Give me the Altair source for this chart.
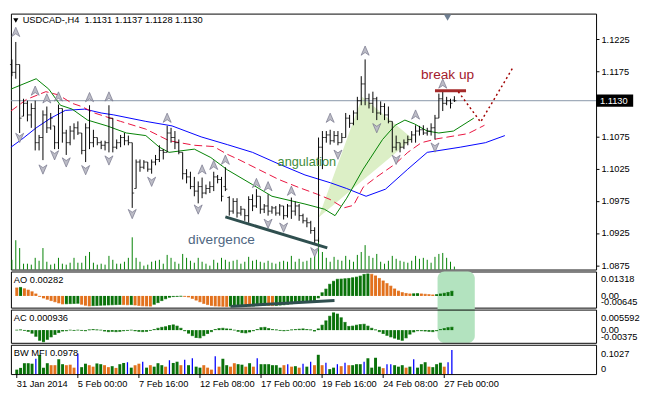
import altair as alt
import pandas as pd

FONT = "Liberation Sans"
N = 115
IDX = list(range(N))

HIGH = [
 1.1194, 1.1221, 1.1186, 1.1133, 1.1130, 1.1126, 1.1130, 1.1077, 1.1115, 1.1121,
 1.1111, 1.1091, 1.1124, 1.1118, 1.1085, 1.1091, 1.1095, 1.1098, 1.1080, 1.1095,
 1.1123, 1.1085, 1.1073, 1.1068, 1.1068, 1.1123, 1.1103, 1.1070, 1.1077, 1.1080,
 1.1076, 1.1065, 1.1039, 1.1039, 1.1038, 1.1035, 1.1039, 1.1046, 1.1061, 1.1055,
 1.1091, 1.1088, 1.1083, 1.1070, 1.1050, 1.1024, 1.1020, 1.1012, 1.1005, 1.1011,
 1.1000, 1.1005, 1.1020, 1.1015, 1.1012, 1.1027, 1.0982, 1.0979, 1.0979, 1.0967,
 1.0962, 1.0982, 1.0985, 1.0993, 1.0982, 1.0970, 1.0985, 1.0967, 1.0967, 1.0970,
 1.0967, 1.0970, 1.0980, 1.0974, 1.0970, 1.0955, 1.0949, 1.0944, 1.0934, 1.1073,
 1.1083, 1.1083, 1.1085, 1.1083, 1.1083, 1.1080, 1.1111, 1.1108, 1.1115, 1.1136,
 1.1168, 1.1194, 1.1141, 1.1144, 1.1136, 1.1129, 1.1126, 1.1121, 1.1098, 1.1076,
 1.1065, 1.1070, 1.1076, 1.1083, 1.1092, 1.1091, 1.1092, 1.1088, 1.1095, 1.1108,
 1.1141, 1.1144, 1.1136, 1.1133, 1.1137]
LOW = [
 1.1168, 1.1164, 1.1080, 1.1106, 1.1098, 1.1088, 1.1053, 1.1053, 1.1038, 1.1080,
 1.1085, 1.1055, 1.1055, 1.1065, 1.1046, 1.1061, 1.1070, 1.1077, 1.1047, 1.1035,
 1.1055, 1.1058, 1.1061, 1.1055, 1.1053, 1.1050, 1.1050, 1.1055, 1.1058, 1.1061,
 1.1061, 1.0964, 1.0994, 1.1020, 1.1024, 1.1020, 1.1017, 1.1030, 1.1035, 1.1039,
 1.1050, 1.1065, 1.1055, 1.1047, 1.1008, 1.1002, 1.0993, 1.0982, 1.0971, 1.0979,
 1.0985, 1.0987, 1.0990, 1.1002, 1.0974, 1.0990, 1.0952, 1.0955, 1.0949, 1.0952,
 1.0944, 1.0941, 1.0959, 1.0964, 1.0955, 1.0956, 1.0952, 1.0955, 1.0952, 1.0952,
 1.0946, 1.0949, 1.0947, 1.0952, 1.0944, 1.0940, 1.0934, 1.0924, 1.0909, 1.0911,
 1.1024, 1.1065, 1.1062, 1.1065, 1.1061, 1.1065, 1.1073, 1.1088, 1.1092, 1.1100,
 1.1123, 1.1123, 1.1118, 1.1111, 1.1100, 1.1108, 1.1100, 1.1095, 1.1050, 1.1053,
 1.1050, 1.1055, 1.1061, 1.1065, 1.1065, 1.1076, 1.1077, 1.1076, 1.1076, 1.1070,
 1.1103, 1.1114, 1.1123, 1.1118, 1.1128]
OPEN = [
 1.1186, 1.1174, 1.1186, 1.1106, 1.1126, 1.1108, 1.1118, 1.1065, 1.1073, 1.1108,
 1.1088, 1.1091, 1.1065, 1.1118, 1.1080, 1.1065, 1.1083, 1.1088, 1.1080, 1.1053,
 1.1088, 1.1065, 1.1073, 1.1065, 1.1061, 1.1065, 1.1103, 1.1058, 1.1065, 1.1073,
 1.1068, 1.1065, 1.0994, 1.1035, 1.1027, 1.1035, 1.1024, 1.1035, 1.1039, 1.1053,
 1.1050, 1.1080, 1.1073, 1.1065, 1.1050, 1.1017, 1.1012, 1.0997, 1.0990, 1.0997,
 1.0987, 1.0994, 1.0997, 1.1012, 1.1008, 1.0997, 1.0980, 1.0959, 1.0974, 1.0956,
 1.0962, 1.0952, 1.0977, 1.0967, 1.0982, 1.0962, 1.0967, 1.0959, 1.0964, 1.0956,
 1.0967, 1.0952, 1.0967, 1.0959, 1.0967, 1.0952, 1.0944, 1.0941, 1.0929, 1.0914,
 1.1058, 1.1073, 1.1077, 1.1068, 1.1076, 1.1065, 1.1073, 1.1103, 1.1095, 1.1111,
 1.1130, 1.1156, 1.1133, 1.1126, 1.1133, 1.1111, 1.1121, 1.1108, 1.1098, 1.1058,
 1.1065, 1.1058, 1.1065, 1.1070, 1.1077, 1.1083, 1.1085, 1.1080, 1.1083, 1.1088,
 1.1103, 1.1133, 1.1126, 1.1130, 1.1131]
CLOSE = [
 1.1174, 1.1186, 1.1103, 1.1126, 1.1108, 1.1118, 1.1065, 1.1073, 1.1108, 1.1088,
 1.1103, 1.1065, 1.1118, 1.1080, 1.1065, 1.1083, 1.1088, 1.1080, 1.1053, 1.1088,
 1.1065, 1.1073, 1.1065, 1.1061, 1.1065, 1.1103, 1.1058, 1.1065, 1.1073, 1.1068,
 1.1065, 1.0987, 1.1035, 1.1027, 1.1035, 1.1024, 1.1035, 1.1039, 1.1053, 1.1050,
 1.1080, 1.1073, 1.1065, 1.1050, 1.1017, 1.1012, 1.0997, 1.0990, 1.0997, 1.0987,
 1.0994, 1.0997, 1.1012, 1.1008, 1.0982, 1.0993, 1.0959, 1.0974, 1.0956, 1.0962,
 1.0952, 1.0977, 1.0967, 1.0982, 1.0962, 1.0967, 1.0959, 1.0964, 1.0956, 1.0967,
 1.0952, 1.0967, 1.0959, 1.0967, 1.0952, 1.0944, 1.0941, 1.0929, 1.0914, 1.1058,
 1.1073, 1.1077, 1.1068, 1.1076, 1.1065, 1.1073, 1.1103, 1.1095, 1.1111, 1.1130,
 1.1156, 1.1133, 1.1126, 1.1133, 1.1111, 1.1121, 1.1108, 1.1098, 1.1058, 1.1065,
 1.1058, 1.1065, 1.1070, 1.1077, 1.1083, 1.1085, 1.1080, 1.1083, 1.1088, 1.1103,
 1.1133, 1.1126, 1.1130, 1.1126, 1.1130]
VOLUME = [
 2500, 7500, 5500, 1500, 1500, 1250, 3000, 2250, 5500, 2000,
 1250, 1500, 3000, 1500, 1250, 1750, 3000, 1750, 1750, 3500,
 4500, 1750, 1250, 1500, 1250, 3500, 2500, 1500, 1500, 2000,
 3000, 8250, 3000, 2000, 1000, 1250, 2000, 2250, 2500, 1500,
 3750, 3000, 2000, 1500, 4000, 3000, 2250, 1750, 3000, 2000,
 1500, 1000, 2500, 1750, 3000, 2500, 2000, 2250, 2500, 1500,
 2000, 3250, 2250, 2500, 2000, 1750, 2250, 1750, 1500, 2000,
 2250, 2000, 3500, 2000, 2750, 2000, 2250, 3000, 3500, 8250,
 4500, 3000, 2000, 3250, 2500, 2250, 3500, 2500, 2000, 3750,
 4500, 6250, 3500, 3000, 4000, 2000, 1500, 2250, 3500, 2750,
 2250, 2000, 1750, 2250, 3500, 2750, 3000, 2500, 1750, 3250,
 4000, 4250, 3000, 2000, 750]

AO = [
 0.0048, 0.0051, 0.0043, 0.0035, 0.0025, 0.0012, -0.0003, -0.0012, -0.0020, -0.0028,
 -0.0035, -0.0042, -0.0048, -0.0047, -0.0046, -0.0045, -0.0044, -0.0050, -0.0056, -0.0060,
 -0.0058, -0.0057, -0.0056, -0.0055, -0.0054, -0.0053, -0.0052, -0.0051, -0.0052, -0.0053,
 -0.0052, -0.0054, -0.0057, -0.0059, -0.0060, -0.0061, -0.0050, -0.0040, -0.0028, -0.0017,
 -0.0008, -0.0004, -0.0003, -0.0002, -0.0003, -0.0006, -0.0015, -0.0025, -0.0035, -0.0045,
 -0.0052, -0.0057, -0.0060, -0.0061, -0.0062, -0.0063, -0.0061, -0.0059, -0.0058, -0.0057,
 -0.0059, -0.0061, -0.0060, -0.0058, -0.0056, -0.0055, -0.0057, -0.0058, -0.0057, -0.0055,
 -0.0053, -0.0050, -0.0047, -0.0044, -0.0041, -0.0038, -0.0035, -0.0033, -0.0030, -0.0012,
 0.0019, 0.0041, 0.0070, 0.0088, 0.0100, 0.0101, 0.0103, 0.0105, 0.0109, 0.0113,
 0.0119, 0.0129, 0.0132, 0.0130, 0.0120, 0.0105, 0.0090, 0.0074, 0.0059, 0.0042,
 0.0029, 0.0020, 0.0015, 0.0012, 0.0013, 0.0014, 0.0012, 0.0010, 0.0008, 0.0006,
 0.0008, 0.0012, 0.0016, 0.0021, 0.00282]
AO_COLOR = ("ogoooooooo" "oooggggooo" "ggggggggoo" "gooooogggg" "ggggoooooo"
            "oooooogggg" "ooggggoogg" "gggggggggg" "gggggggggg" "gggooooooo"
            "ooooggoooo" "ggggg")

AC = [
 0.0000, 0.0001, -0.0001, -0.0004, -0.0010, -0.0020, -0.0033, -0.0038, -0.0030, -0.0022,
 -0.0014, -0.0008, -0.0003, -0.0002, 0.0000, -0.0001, 0.0000, -0.0001, -0.0002, 0.0001,
 0.0002, 0.0001, 0.0000, -0.0003, -0.0005, -0.0004, -0.0005, -0.0004, -0.0002, -0.0001,
 0.0000, -0.0002, -0.0004, -0.0005, -0.0004, -0.0001, 0.0002, 0.0006, 0.0009, 0.0011,
 0.0015, 0.0017, 0.0013, 0.0006, -0.0002, -0.0010, -0.0018, -0.0024, -0.0025, -0.0018,
 -0.0011, -0.0005, 0.0002, 0.0005, 0.0006, 0.0004, 0.0003, 0.0000, -0.0004, -0.0008,
 -0.0009, -0.0006, -0.0002, 0.0002, 0.0008, 0.0009, 0.0005, 0.0002, 0.0001, -0.0001,
 -0.0002, -0.0001, 0.0001, 0.0002, 0.0003, 0.0004, 0.0002, 0.0001, -0.0003, 0.0004,
 0.0016, 0.0030, 0.0045, 0.0056, 0.0052, 0.0040, 0.0025, 0.0012, 0.0013, 0.0016,
 0.0018, 0.0019, 0.0013, 0.0006, 0.0001, -0.0005, -0.0011, -0.0017, -0.0022, -0.0026,
 -0.0030, -0.0033, -0.0025, -0.0013, -0.0006, -0.0002, -0.0002, -0.0003, -0.0004, -0.0005,
 -0.0002, 0.0002, 0.0005, 0.0008, 0.000936]
AC_COLOR = ("ggrrrrrrgg" "gggggrgrrg" "grrrrgrggg" "grrrgggggg" "ggrrrrrrrg"
            "gggggrrrrr" "rgggggrrrr" "rgggggrrrg" "ggggrrrrgg" "ggrrrrrrrr"
            "rrggggrrrr" "ggggg")

MFI = [
 0.018, 0.025, 0.044, 0.044, 0.042, 0.062, 0.078, 0.026, 0.044, 0.036,
 0.036, 0.060, 0.040, 0.036, 0.038, 0.026, 0.083, 0.028, 0.042, 0.036,
 0.030, 0.043, 0.040, 0.036, 0.028, 0.032, 0.025, 0.040, 0.045, 0.048,
 0.026, 0.036, 0.042, 0.050, 0.026, 0.036, 0.030, 0.044, 0.036, 0.030,
 0.056, 0.045, 0.050, 0.036, 0.058, 0.036, 0.064, 0.030, 0.026, 0.036,
 0.026, 0.018, 0.072, 0.030, 0.062, 0.036, 0.030, 0.044, 0.040, 0.038,
 0.030, 0.044, 0.030, 0.064, 0.040, 0.040, 0.040, 0.036, 0.036, 0.026,
 0.036, 0.040, 0.030, 0.032, 0.026, 0.042, 0.030, 0.050, 0.036, 0.078,
 0.036, 0.046, 0.020, 0.026, 0.040, 0.032, 0.046, 0.036, 0.036, 0.040,
 0.040, 0.050, 0.064, 0.026, 0.066, 0.030, 0.024, 0.040, 0.040, 0.036,
 0.030, 0.036, 0.026, 0.030, 0.060, 0.026, 0.040, 0.048, 0.030, 0.028,
 0.040, 0.046, 0.030, 0.048, 0.0978]
MFI_COLOR = ("ggggsbgsgf" "fgsfffbssf" "fgsffsfggb" "sffbsfsssf" "bggfbsbssf"
             "ffbfgsffsg" "fgfbssssss" "fbfsfbsbfg" "fbsgbfbfsg" "gbgsgsfbbg"
             "sgfgbsggfs" "ggfbb")

# Alligator lines (bar index, price)
JAW_I = [-0.25, 2.5, 6.25, 10, 13.75, 18.75, 23, 26.25, 34.5, 41.25, 48.75, 55.5, 62,
         68.75, 75.5, 82, 86.25, 91.25, 96.25, 102, 107, 115.5, 122, 127]
JAW_P = [1.1058, 1.1070, 1.1088, 1.1103, 1.1115, 1.1117, 1.1111, 1.1108, 1.1098, 1.1091,
         1.1074, 1.1062, 1.1050, 1.1032, 1.1015, 1.1003, 1.0994, 1.0982, 1.0993, 1.1024,
         1.1050, 1.1058, 1.1065, 1.1076]
TEETH_I = [-0.25, 3.75, 8.75, 12, 15.5, 18, 21.25, 28, 34.5, 40.5, 47, 52, 55.5, 58.75,
           63.75, 68.75, 73.75, 78.75, 82, 85.5, 88, 90.5, 93.75, 98.75, 102, 105.5,
           109.5, 114.5, 117.5, 121.75]
TEETH_P = [1.1114, 1.1132, 1.1144, 1.1139, 1.1126, 1.1121, 1.1111, 1.1098, 1.1086, 1.1068,
           1.1061, 1.1059, 1.1047, 1.1038, 1.1023, 1.1008, 1.0996, 1.0985, 1.0977, 1.0964,
           1.0968, 1.0996, 1.1011, 1.1032, 1.1050, 1.1065, 1.1071, 1.1076, 1.1079, 1.1092]
LIPS_I = [-0.25, 6.25, 9.5, 12.5, 15.5, 19.5, 24.5, 29.5, 34.5, 38, 40.5, 47, 51.25, 55.5,
          62, 67, 75.5, 80.5, 83.25, 86.25, 90.5, 95.5, 98.75, 101.25, 103.75, 107, 110,
          113.75, 119]
LIPS_P = [1.1148, 1.1164, 1.1148, 1.1123, 1.1117, 1.1100, 1.1091, 1.1080, 1.1076, 1.1058,
          1.1050, 1.1055, 1.1042, 1.1023, 1.1000, 1.0982, 1.0970, 1.0962, 1.0952, 1.0979,
          1.1024, 1.1070, 1.1092, 1.1100, 1.1094, 1.1083, 1.1080, 1.1083, 1.1103]

UP_I = [1, 6, 9, 12, 20, 25, 40, 49, 52, 55, 63, 66, 72, 82, 91, 104, 111]
UP_P = [1.1236, 1.1145, 1.1133, 1.1136, 1.1135, 1.1136, 1.1103, 1.1023, 1.1030, 1.1038,
        1.1002, 1.0997, 1.0990, 1.1103, 1.1207, 1.1108, 1.1156]
DN_I = [2, 8, 11, 14, 19, 25, 31, 36, 48, 66, 70, 78, 84, 94, 99, 109]
DN_P = [1.1073, 1.1024, 1.1046, 1.1035, 1.1023, 1.1038, 1.0955, 1.1005, 1.0962, 1.0940,
        1.0934, 1.0896, 1.1047, 1.1088, 1.1039, 1.1058]

ANG_I = [79, 90.25, 103.25]
ANG_TOP = [1.0949, 1.1136, 1.1071]
ANG_BOT = [1.0949, 1.1006, 1.1071]
DIV_I = [55, 81.25]
DIV_P = [1.0950, 1.0902]
BRK_I = [109, 117]
BRK_P = [1.11454, 1.11454]
PROJ_I = [115, 120.75, 129.25]
PROJ_P = [1.1144, 1.1097, 1.1183]
AO_DIV_I = [56, 83.25]
AO_DIV_V = [-0.00627, -0.00275]
NOTE_I = [110.25, 120]

X_TICKS = [0, 16, 32, 48, 64, 80, 96, 112]
X_LABELS = ["31 Jan 2014", "5 Feb 00:00", "7 Feb 16:00", "12 Feb 08:00",
            "17 Feb 00:00", "19 Feb 16:00", "24 Feb 08:00", "27 Feb 00:00"]
PRICE_TICKS = [1.0875, 1.0925, 1.0975, 1.1025, 1.1075, 1.1175, 1.1225]
LAST = CLOSE[-1]

# ---------------------------------------------------------------
W = 599
HM = 30
XS = alt.Scale(domain=[-0.25, 150.5], nice=False, zero=False)
PS = alt.Scale(domain=[1.08685, 1.12649], nice=False, zero=False)
AOS = alt.Scale(domain=[-0.00703, 0.01465], nice=False, zero=False)
ACS = alt.Scale(domain=[-0.00411, 0.00664], nice=False, zero=False)
MS = alt.Scale(domain=[0, 0.1186], nice=False, zero=False)
FS = 9.5


def xq(field="i", axis=None):
    return alt.X(f"{field}:Q", scale=XS, axis=axis)


def yq(field, scale, axis=None):
    return alt.Y(f"{field}:Q", scale=scale, axis=axis)


def line(I, P, scale, **kw):
    df = pd.DataFrame({"i": I, "p": P})
    return alt.Chart(df).mark_line(**kw).encode(x=xq(), y=yq("p", scale))


def side_labels(vals, texts, bases, scale):
    out = []
    for v, t, b in zip(vals, texts, bases):
        df = pd.DataFrame({"v": [v], "t": [t]})
        out.append(alt.Chart(df).mark_text(align="left", baseline=b, fontSize=FS,
                                           color="black", font=FONT)
                   .encode(x=alt.value(W + 5), y=yq("v", scale), text="t:N"))
    return out


def corner_label(text):
    df = pd.DataFrame({"t": [text]})
    return alt.Chart(df).mark_text(align="left", baseline="middle", fontSize=FS,
                                   color="black", font=FONT).encode(
        x=alt.value(3), y=alt.value(9), text="t:N")


def tick_axis(vals):
    return alt.Axis(orient="right", values=vals, labels=False, tickSize=3,
                    tickColor="black", domain=False, grid=False, title=None)


bars = pd.DataFrame({"i": IDX, "h": HIGH, "l": LOW, "o": OPEN, "c": CLOSE, "v": VOLUME})

angulation = alt.Chart(pd.DataFrame({"i": ANG_I, "top": ANG_TOP, "bot": ANG_BOT})).mark_area(
    color="#dcefc6", opacity=1).encode(x=xq(), y=yq("top", PS), y2="bot:Q")

volume = alt.Chart(bars).mark_rule(color="#008000", strokeWidth=1).encode(
    x=xq(), y=alt.Y("v:Q", scale=alt.Scale(domain=[0, 65500], nice=False), axis=None),
    y2=alt.datum(0))

last_df = pd.DataFrame({"p": [LAST], "t": [f"{LAST:.4f}"],
                        "top": [LAST + 0.00095], "bot": [LAST - 0.00095]})
price_line = alt.Chart(last_df).mark_rule(color="#8796a8", strokeWidth=1).encode(
    y=yq("p", PS))

price_axis = alt.Axis(orient="right", values=PRICE_TICKS, format=".4f", tickSize=3,
                      tickColor="black", domain=False, grid=False, labelColor="black",
                      labelFontSize=FS, labelFont=FONT, labelPadding=2, title=None,
                      labelOverlap=False, labelBound=False)
hl = alt.Chart(bars).mark_rule(color="black", strokeWidth=1).encode(
    x=xq(), y=yq("h", PS, price_axis), y2="l:Q")
opn = alt.Chart(bars).mark_tick(orient="horizontal", size=2, thickness=1, color="black",
                                xOffset=-1).encode(x=xq(), y=yq("o", PS))
cls = alt.Chart(bars).mark_tick(orient="horizontal", size=2, thickness=1, color="black",
                                xOffset=1).encode(x=xq(), y=yq("c", PS))

jaw = line(JAW_I, JAW_P, PS, color="#0000ff", strokeWidth=1)
teeth = line(TEETH_I, TEETH_P, PS, color="#e8103c", strokeWidth=1, strokeDash=[8, 4])
lips = line(LIPS_I, LIPS_P, PS, color="#008000", strokeWidth=1)

div_line = line(DIV_I, DIV_P, PS, color="#2f4f4f", strokeWidth=3)
brk_line = line(BRK_I, BRK_P, PS, color="#a52a2a", strokeWidth=3)
proj_line = line(PROJ_I, PROJ_P, PS, color="#a00000", strokeWidth=1.5, strokeDash=[2, 3])

UP_SHAPE = "M0,-1L0.8,0.85L0,0.3L-0.8,0.85Z"
DN_SHAPE = "M0,1L0.8,-0.85L0,-0.3L-0.8,-0.85Z"
up_fr = alt.Chart(pd.DataFrame({"i": UP_I, "p": UP_P})).mark_point(
    shape=UP_SHAPE, filled=True, size=105, fill="#bcbcc6", stroke="#74748a",
    strokeWidth=0.7, opacity=1).encode(x=xq(), y=yq("p", PS))
dn_fr = alt.Chart(pd.DataFrame({"i": DN_I, "p": DN_P})).mark_point(
    shape=DN_SHAPE, filled=True, size=105, fill="#bcbcc6", stroke="#74748a",
    strokeWidth=0.7, opacity=1).encode(x=xq(), y=yq("p", PS))


def note(i, p, text, color, size):
    df = pd.DataFrame({"i": [i], "p": [p], "t": [text]})
    return alt.Chart(df).mark_text(fontSize=size, color=color, font=FONT,
                                   baseline="middle", align="center").encode(
        x=xq(), y=yq("p", PS), text="t:N")


t_div = note(54, 1.0914, "divergence", "#4f6782", 14)
t_ang = note(76, 1.1035, "angulation", "#3f8c3a", 13)
t_brk = note(112.25, 1.1170, "break up", "#a3202c", 14)

box = alt.Chart(last_df).mark_rect(color="black").encode(
    x=alt.value(W), x2=alt.value(W + 38), y=yq("top", PS), y2="bot:Q")
box_t = alt.Chart(last_df).mark_text(color="white", align="left", baseline="middle",
                                     fontSize=FS, font=FONT).encode(
    x=alt.value(W + 4), y=yq("p", PS), text="t:N")

header_txt = ("USDCAD-,H4\u00a0\u00a0" + f"{OPEN[-1]:.4f} {HIGH[-1]:.4f} "
              f"{LOW[-1]:.4f} {CLOSE[-1]:.4f}")
header = alt.Chart(pd.DataFrame({"t": [header_txt]})).mark_text(
    align="left", baseline="middle", fontSize=FS, color="black", font=FONT).encode(
    x=alt.value(12), y=alt.value(7), text="t:N")
header_tri = alt.Chart(pd.DataFrame({"t": [0]})).mark_point(
    shape="triangle-down", filled=True, color="black", size=28, opacity=1).encode(
    x=alt.value(5), y=alt.value(7))
shift_tri = alt.Chart(pd.DataFrame({"t": [0]})).mark_point(
    shape="triangle-down", filled=True, color="#6f7f92", size=55, opacity=1).encode(
    x=alt.value(447), y=alt.value(4))

main = alt.layer(
    angulation, volume, price_line, jaw, teeth, lips, hl, opn, cls,
    div_line, brk_line, proj_line, up_fr, dn_fr, t_div, t_ang, t_brk,
    box, box_t, header, header_tri, shift_tri
).resolve_scale(y="independent").properties(width=W, height=262)

# ---------------- AO ----------------
ao_df = pd.DataFrame({"i": IDX, "v": AO, "c": list(AO_COLOR)})
ao_col = alt.Color("c:N", scale=alt.Scale(domain=["g", "o"], range=["#0a720a", "#e2711d"]),
                   legend=None)
note_df = pd.DataFrame({"i1": [NOTE_I[0]], "i2": [NOTE_I[1]], "v1": [0.01465], "v2": [-0.0281]})
ao_note = alt.Chart(note_df).mark_rect(color="#b3e3bf", cornerRadius=7).encode(
    x=alt.X("i1:Q", scale=XS, axis=None), x2="i2:Q", y=yq("v1", AOS), y2="v2:Q")
ao_bars = alt.Chart(ao_df).mark_bar(width=3, orient="vertical").encode(
    x=xq(), y=yq("v", AOS, tick_axis([0.01318, 0, -0.00645])), y2=alt.datum(0), color=ao_col)
ao_tips = alt.Chart(ao_df).mark_tick(orient="horizontal", size=3, thickness=1).encode(
    x=xq(), y=yq("v", AOS), color=ao_col)
ao_div = line(AO_DIV_I, AO_DIV_V, AOS, color="#2f4f4f", strokeWidth=3)
ao = alt.layer(
    ao_note, ao_bars, ao_tips, ao_div, corner_label(f"AO {AO[-1]:.5f}"),
    *side_labels([0.01318, 0, -0.00645], ["0.01318", "0.00", "-0.00645"],
                 ["top", "middle", "bottom"], AOS)
).properties(width=W, height=37)

# ---------------- AC ----------------
ac_df = pd.DataFrame({"i": IDX, "v": AC, "c": list(AC_COLOR)})
ac_col = alt.Color("c:N", scale=alt.Scale(domain=["g", "r"], range=["#0a720a", "#dc143c"]),
                   legend=None)
ac_bars = alt.Chart(ac_df).mark_bar(width=3, orient="vertical").encode(
    x=xq(), y=yq("v", ACS, tick_axis([0.005592, 0, -0.00375])), y2=alt.datum(0), color=ac_col)
ac_tips = alt.Chart(ac_df).mark_tick(orient="horizontal", size=3, thickness=1).encode(
    x=xq(), y=yq("v", ACS), color=ac_col)
ac = alt.layer(
    ac_bars, ac_tips, corner_label(f"AC {AC[-1]:.6f}"),
    *side_labels([0.005592, 0, -0.00375], ["0.005592", "0.00", "-0.00375"],
                 ["top", "middle", "bottom"], ACS)
).properties(width=W, height=34)

# ---------------- BW MFI ----------------
mfi_df = pd.DataFrame({"i": IDX, "v": MFI, "c": list(MFI_COLOR)})
mfi_col = alt.Color("c:N", scale=alt.Scale(domain=["g", "f", "s"],
                                            range=["#2e8b57", "#b8860b", "#dc143c"]),
                    legend=None)
mfi_wide = alt.Chart(mfi_df).transform_filter("datum.c != 'b'").mark_bar(
    width=3, orient="vertical").encode(
    x=xq(), y=yq("v", MS, tick_axis([0.1027, 0])), y2=alt.datum(0), color=mfi_col)
mfi_thin = alt.Chart(mfi_df).transform_filter("datum.c == 'b'").mark_rule(
    color="#0000ff", strokeWidth=1.3).encode(x=xq(), y=yq("v", MS), y2=alt.datum(0))

xt_df = pd.DataFrame({"i": X_TICKS, "t": X_LABELS})
x_ticks = alt.Chart(xt_df).mark_rule(color="black", strokeWidth=1).encode(
    x=xq(), y=alt.value(HM), y2=alt.value(HM + 4))
x_labels = alt.Chart(xt_df).mark_text(align="left", baseline="top", fontSize=FS,
                                      color="black", font=FONT).encode(
    x=xq(), y=alt.value(HM + 5), text="t:N")

mfi = alt.layer(
    mfi_wide, mfi_thin, x_ticks, x_labels, corner_label(f"BW MFI {MFI[-1]:.4f}"),
    *side_labels([0.1027, 0], ["0.1027", "0"], ["top", "bottom"], MS)
).properties(width=W, height=HM)

chart = alt.vconcat(main, ao, ac, mfi, spacing=2, bounds="flush").properties(
    padding={"left": 0, "top": 0, "right": 0, "bottom": 16}, background="white"
).configure(font=FONT).configure_view(stroke="black", strokeWidth=1)

chart.save("out.html", embed_options={"renderer": "svg", "actions": False})
